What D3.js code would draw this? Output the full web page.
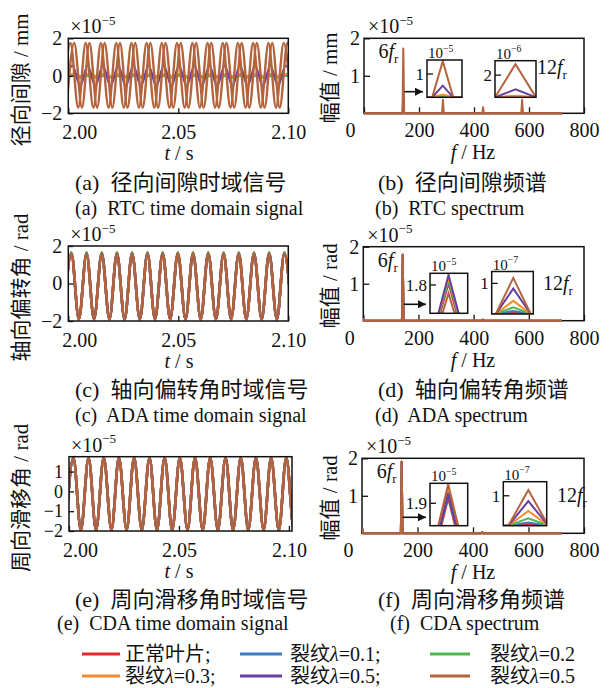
<!DOCTYPE html>
<html>
<head>
<meta charset="utf-8">
<script src="https://cdn.jsdelivr.net/npm/d3@7"></script>
<style>
  body { margin: 0; background: #fff; }
  svg text { font-family: 'Liberation Serif', 'Noto Sans CJK SC', serif; fill: #111; white-space: pre; }
</style>
</head>
<body>
<svg id="fig" width="612" height="688"></svg>
<script>
// series: 正常叶片, λ=0.1, λ=0.2, λ=0.3, λ=0.5 (purple), λ=0.5 (brown)
const colors = ['#e8262b', '#3a7cc0', '#4fb74f', '#f68b2c', '#6a3c9c', '#b3643c'];
const legendLabels = ['正常叶片;', '裂纹λ=0.1;', '裂纹λ=0.2', '裂纹λ=0.3;', '裂纹λ=0.5;', '裂纹λ=0.5'];

// time-domain extremum instants (s), trough first, then alternating peak / trough
const rtcExtT = [1.9992, 2.0027, 2.0062, 2.0096, 2.0131, 2.0165, 2.0200, 2.0235, 2.0269, 2.0304,
  2.0338, 2.0373, 2.0408, 2.0442, 2.0477, 2.0511, 2.0546, 2.0581, 2.0615, 2.0650, 2.0684, 2.0719,
  2.0754, 2.0788, 2.0823, 2.0857, 2.0892, 2.0927, 2.0961, 2.0996, 2.1031];
const adaExtT = [1.9979, 2.0014, 2.0048, 2.0083, 2.0117, 2.0152, 2.0187, 2.0221, 2.0256, 2.0290,
  2.0325, 2.0360, 2.0394, 2.0429, 2.0463, 2.0498, 2.0533, 2.0567, 2.0602, 2.0636, 2.0671, 2.0706,
  2.0740, 2.0775, 2.0809, 2.0844, 2.0879, 2.0913, 2.0948, 2.0982, 2.1017];
const cdaExtT = [1.9985, 2.0020, 2.0054, 2.0089, 2.0123, 2.0158, 2.0193, 2.0227, 2.0262, 2.0296,
  2.0331, 2.0366, 2.0400, 2.0435, 2.0469, 2.0504, 2.0539, 2.0573, 2.0608, 2.0642, 2.0677, 2.0712,
  2.0746, 2.0781, 2.0815, 2.0850, 2.0885, 2.0919, 2.0954, 2.0988, 2.1023, 2.1058];
const rtcPurpleLead = 0.0008;   // purple trace runs slightly ahead in (a)
const rtcBrownLag = 0.0017;     // second brown branch in (a)

// [peak, trough] per series, ×10^-5
const rtcAmp = [[0.01, -0.03], [0.02, -0.05], [0.02, -0.12], [0.12, -0.05], [0.55, -0.55], [1.75, -1.7]];
const adaAmp = [[1.6, -1.9], [1.6, -1.9], [1.66, -1.9], [1.6, -1.9], [1.6, -1.9], [1.58, -1.9]];
const cdaAmp = [[1.7, -1.95], [1.7, -1.95], [1.72, -1.95], [1.7, -1.95], [1.7, -1.95], [1.7, -1.94]];

// spectra: peak frequencies (Hz) and amplitudes per series, ×10^-5
const specFreq = [0, 143, 287, 433, 575];
const specEnd = 720;
const binHz = 3;
const rtcSpec = [[0, 0.02, 0, 0, 0], [0, 0.04, 0.01, 0, 0], [0, 0.07, 0.01, 0, 0],
  [0, 0.12, 0.02, 0.01, 0.01], [0, 0.5, 0.07, 0.03, 0.06], [0, 1.73, 0.36, 0.16, 0.36]];
const adaSpec = [[0.06, 1.78, 0, 0.01, 0], [0.06, 1.78, 0, 0.01, 0], [0.06, 1.78, 0, 0.01, 0],
  [0.06, 1.78, 0.01, 0.02, 0], [0.06, 1.78, 0.01, 0.03, 0], [0.06, 1.78, 0.01, 0.04, 0.01]];
const cdaSpec = [[0.15, 1.91, 0, 0.02, 0], [0.15, 1.91, 0, 0.01, 0], [0.15, 1.91, 0, 0.01, 0],
  [0.15, 1.91, 0.01, 0.02, 0], [0.15, 1.91, 0.01, 0.03, 0], [0.15, 1.91, 0.01, 0.03, 0.01]];

// zoomed peaks in the insets (6fr and 12fr)
const rtcIn6 = [0.02, 0.04, 0.07, 0.12, 0.5, 1.55];
const rtcIn12 = [0.02, 0.04, 0.08, 0.15, 0.72, 2.99];
const adaIn6 = [1.82, 1.85, 1.875, 1.9, 1.928, 1.694];
const adaIn12 = [0.05, 0.1, 0.22, 0.43, 0.83, 1.18];
const cdaIn6 = [1.925, 1.94, 1.965, 1.98, 1.95, 1.995];
const cdaIn12 = [0.05, 0.11, 0.25, 0.49, 0.82, 1.19];

const svg = d3.select('#fig');
const defs = svg.append('defs');
defs.append('marker').attr('id', 'arrow').attr('viewBox', '0 0 10 10')
  .attr('refX', 10).attr('refY', 5).attr('markerWidth', 10).attr('markerHeight', 8)
  .attr('markerUnits', 'userSpaceOnUse').attr('orient', 'auto')
  .append('path').attr('d', 'M0,0L10,5L0,10Z').attr('fill', '#111');

let clipN = 0;
function clip(x0, y0, w, h) {
  const id = 'clip' + (clipN++);
  defs.append('clipPath').attr('id', id).append('rect')
    .attr('x', x0).attr('y', y0).attr('width', w).attr('height', h);
  return `url(#${id})`;
}

// text made of pieces: plain strings or {t, it, sup, sub}
function addText(x, y, parts, size = 20, anchor = 'start', rotate = null) {
  const t = svg.append('text').attr('x', x).attr('y', y)
    .attr('font-size', size).attr('text-anchor', anchor);
  if (rotate !== null) t.attr('transform', `rotate(${rotate},${x},${y})`);
  let shift = 0;
  parts.forEach(p => {
    if (typeof p === 'string') p = { t: p };
    const s = t.append('tspan').text(p.t);
    const target = p.sup ? -size * 0.42 : p.sub ? size * 0.25 : 0;
    if (target !== shift) { s.attr('dy', target - shift); shift = target; }
    if (p.sup || p.sub) s.attr('font-size', size * 0.65);
    if (p.it) s.attr('font-style', 'italic');
  });
  return t;
}

function styleAxis(g, size = 20) {
  g.attr('font-family', null).attr('font-size', size);
  g.select('.domain').remove();
  g.selectAll('.tick line').attr('stroke', '#111').attr('stroke-width', 1.3);
}

function frame(x0, y0, x1, y1) {
  svg.append('rect').attr('x', x0).attr('y', y0).attr('width', x1 - x0).attr('height', y1 - y0)
    .attr('fill', 'none').attr('stroke', '#111').attr('stroke-width', 1.5);
}

function timePanel(p) {
  const x = d3.scaleLinear().domain(p.xDom).range([p.x0, p.x1]);
  const y = d3.scaleLinear().domain(p.yDom).range([p.y1, p.y0]);
  const line = d3.line().x(d => x(d[0])).y(d => y(d[1])).curve(d3.curveMonotoneX);
  const g = svg.append('g').attr('clip-path', clip(p.x0, p.y0, p.x1 - p.x0, p.y1 - p.y0));
  p.traces.forEach(tr => {
    const pts = tr.times.map((t, i) => [t, i % 2 ? tr.amp[0] : tr.amp[1]]);
    g.append('path').attr('d', line(pts)).attr('fill', 'none')
      .attr('stroke', colors[tr.s]).attr('stroke-width', tr.w || 2);
  });
  svg.append('g').attr('transform', `translate(0,${p.y1})`)
    .call(d3.axisBottom(x).tickValues([2.0, 2.05, 2.1]).tickFormat(d3.format('.2f'))
      .tickSize(-5).tickPadding(12))
    .call(styleAxis)
    .call(g => g.select('.tick text').attr('x', 11));
  svg.append('g').attr('transform', `translate(${p.x0},0)`)
    .call(d3.axisLeft(y).tickValues(p.yTicks).tickFormat(d3.format('d')).tickSize(-5).tickPadding(6))
    .call(g => styleAxis(g, p.yTickSize || 20));
  frame(p.x0, p.y0, p.x1, p.y1);
  addText(p.x0 + 2, p.y0 - 5, ['×10', { t: '−5', sup: true }], 20);
  addText(179, p.y1 + 47, [{ t: 't', it: true }, ' / s'], 20, 'middle');
  addText(28, (p.y0 + p.y1) / 2 + 4, [p.ylab], 21, 'middle', -90);
}

function specPanel(p) {
  const x = d3.scaleLinear().domain([0, 800]).range([p.x0, p.x1]);
  const y = d3.scaleLinear().domain([0, 2]).range([p.y1, p.y0]);
  const line = d3.line().x(d => x(d[0])).y(d => y(d[1]));
  svg.append('g').attr('transform', `translate(0,${p.y1})`)
    .call(d3.axisBottom(x).tickValues([0, 200, 400, 600, 800]).tickSize(-6).tickPadding(10))
    .call(styleAxis)
    .call(g => g.select('.tick text').attr('x', -14));
  svg.append('g').attr('transform', `translate(${p.x0},0)`)
    .call(d3.axisLeft(y).tickValues([1, 2]).tickFormat(d3.format('d')).tickSize(-6).tickPadding(4))
    .call(styleAxis);
  frame(p.x0, p.y0, p.x1, p.y1);
  const g = svg.append('g').attr('clip-path', clip(p.x0, p.y0, p.x1 - p.x0, p.y1 - p.y0 + 2));
  p.spec.forEach((amps, s) => {
    const pts = [[0, amps[0]], [binHz, 0]];
    specFreq.slice(1).forEach((f, i) => pts.push([f - binHz, 0], [f, amps[i + 1]], [f + binHz, 0]));
    pts.push([specEnd, 0]);
    g.append('path').attr('d', line(pts)).attr('fill', 'none')
      .attr('stroke', colors[s]).attr('stroke-width', 2).attr('stroke-linejoin', 'round');
  });
  addText(p.x0 + 4, p.y0 - 5, ['×10', { t: '−5', sup: true }], 20);
  addText(473, p.y1 + 46, [{ t: 'f', it: true }, ' / Hz'], 20, 'middle');
  addText(337, (p.y0 + p.y1) / 2 + 2, [p.ylab], 21, 'middle', -90);
  addText(x(specFreq[1]) - 5, p.y0 + 20, ['6', { t: 'f', it: true }, { t: 'r', sub: true }], 20, 'end');
  addText(p.lab12[0], p.lab12[1], ['12', { t: 'f', it: true }, { t: 'r', sub: true }], 20);
  svg.append('line').attr('x1', x(specFreq[1]) + 1).attr('x2', p.insets[0].x0 - 4)
    .attr('y1', p.arrowY).attr('y2', p.arrowY)
    .attr('stroke', '#111').attr('stroke-width', 1.6).attr('marker-end', 'url(#arrow)');
  p.insets.forEach(inset);
}

function inset(b) {
  const x = d3.scaleLinear().domain(b.xDom).range([b.x0, b.x1]);
  const y = d3.scaleLinear().domain(b.yDom).range([b.y1, b.y0]);
  const line = d3.line().x(d => x(d[0])).y(d => y(d[1]));
  svg.append('rect').attr('x', b.x0).attr('y', b.y0).attr('width', b.x1 - b.x0)
    .attr('height', b.y1 - b.y0).attr('fill', '#fff');
  const g = svg.append('g').attr('clip-path', clip(b.x0, b.y0, b.x1 - b.x0, b.y1 - b.y0));
  b.vals.forEach((v, s) => {
    const pts = [[b.fc - 30, 0], [b.fc - binHz, 0], [b.fc, v], [b.fc + binHz, 0], [b.fc + 30, 0]];
    g.append('path').attr('d', line(pts)).attr('fill', 'none')
      .attr('stroke', colors[s]).attr('stroke-width', 2).attr('stroke-linejoin', 'miter');
  });
  frame(b.x0, b.y0, b.x1, b.y1);
  svg.append('line').attr('x1', b.x0).attr('x2', b.x0 + 6)
    .attr('y1', y(b.tick)).attr('y2', y(b.tick)).attr('stroke', '#111').attr('stroke-width', 1.3);
  addText(b.x0 - 3, y(b.tick) + 6, [String(b.tick)], 17, 'end');
  addText(b.x0 + 1, b.y0 - 2, ['10', { t: b.exp, sup: true }], 15);
}

// ---- panels ----
const tr = (times, amp, s, w) => ({ times, amp, s, w });
timePanel({
  x0: 68.3, x1: 288.3, y0: 38.3, y1: 113.3, xDom: [2.0, 2.1], yDom: [-2, 2], yTicks: [-2, 0, 2],
  ylab: '径向间隙 / mm',
  traces: [
    tr(rtcExtT, rtcAmp[0], 0), tr(rtcExtT, rtcAmp[1], 1), tr(rtcExtT, rtcAmp[2], 2),
    tr(rtcExtT, rtcAmp[3], 3), tr(rtcExtT.map(t => t - rtcPurpleLead), rtcAmp[4], 4, 2.2),
    tr(rtcExtT, rtcAmp[5], 5, 2.4), tr(rtcExtT.map(t => t - rtcBrownLag), rtcAmp[5], 5, 2.4)
  ]
});
timePanel({
  x0: 68.3, x1: 288.3, y0: 246, y1: 321, xDom: [2.0, 2.1], yDom: [-2, 2], yTicks: [-2, 0, 2],
  ylab: '轴向偏转角 / rad',
  traces: adaAmp.map((a, s) => tr(adaExtT, a, s, 2.6))
});
timePanel({
  x0: 69, x1: 292, y0: 456.7, y1: 531, xDom: [2.0, 2.1014], yDom: [-2, 1.75], yTicks: [-2, -1, 0, 1],
  ylab: '周向滑移角 / rad', yTickSize: 18,
  traces: cdaAmp.map((a, s) => tr(cdaExtT, a, s, 2.6))
});

specPanel({
  x0: 364, x1: 584, y0: 38.3, y1: 113.3, spec: rtcSpec, ylab: '幅值 / mm', arrowY: 91.7, lab12: [537, 74],
  insets: [
    { x0: 427, x1: 462, y0: 60, y1: 97.3, xDom: [138.5, 148.5], yDom: [0, 1.6], tick: 1, fc: 143, exp: '−5', vals: rtcIn6 },
    { x0: 495, x1: 536, y0: 60.7, y1: 97.3, xDom: [284, 290], yDom: [0, 3.3], tick: 2, fc: 287, exp: '−6', vals: rtcIn12 }
  ]
});
specPanel({
  x0: 363.3, x1: 584, y0: 246.7, y1: 320.7, spec: adaSpec, ylab: '幅值 / rad', arrowY: 304.3, lab12: [543, 290],
  insets: [
    { x0: 430, x1: 467.7, y0: 273.3, y1: 313.3, xDom: [141.6, 144.45], yDom: [1.437, 1.95], tick: 1.8, fc: 143, exp: '−5', vals: adaIn6 },
    { x0: 491.7, x1: 533.3, y0: 271.5, y1: 314, xDom: [283.3, 290.43], yDom: [0, 1.39], tick: 1, fc: 287, exp: '−7', vals: adaIn12 }
  ]
});
specPanel({
  x0: 362, x1: 584, y0: 458.3, y1: 533.3, spec: cdaSpec, ylab: '幅值 / rad', arrowY: 517.3, lab12: [557, 502],
  insets: [
    { x0: 430, x1: 467.7, y0: 483.3, y1: 525.7, xDom: [142.43, 143.61], yDom: [1.788, 2.0], tick: 1.9, fc: 143, exp: '−5', vals: cdaIn6 },
    { x0: 503.3, x1: 546.7, y0: 481.7, y1: 525.7, xDom: [283.25, 289.75], yDom: [0, 1.47], tick: 1, fc: 287, exp: '−7', vals: cdaIn12 }
  ]
});

// ---- captions ----
addText(75, 190, ['(a)  径向间隙时域信号'], 22);
addText(75, 215, ['(a)  RTC time domain signal'], 20);
addText(378, 190, ['(b)  径向间隙频谱'], 22);
addText(375, 215, ['(b)  RTC spectrum'], 20);
addText(75, 397, ['(c)  轴向偏转角时域信号'], 22);
addText(75, 422, ['(c)  ADA time domain signal'], 20);
addText(378, 397, ['(d)  轴向偏转角频谱'], 22);
addText(375, 422, ['(d)  ADA spectrum'], 20);
addText(75, 607, ['(e)  周向滑移角时域信号'], 22);
addText(57, 630, ['(e)  CDA time domain signal'], 20);
addText(378, 607, ['(f)  周向滑移角频谱'], 22);
addText(390, 630, ['(f)  CDA spectrum'], 20);

// ---- legend ----
const legX = [[82, 120, 125], [240, 282, 290], [430, 470, 490]];
const legY = [654, 676];
legendLabels.forEach((lab, i) => {
  const c = legX[i % 3], yy = legY[Math.floor(i / 3)];
  svg.append('line').attr('x1', c[0]).attr('x2', c[1]).attr('y1', yy).attr('y2', yy)
    .attr('stroke', colors[i]).attr('stroke-width', 3);
  const parts = lab.includes('λ')
    ? [lab.split('λ')[0], { t: 'λ', it: true }, lab.split('λ')[1]] : [lab];
  addText(c[2], yy + 7, parts, 20);
});
</script>
</body>
</html>
